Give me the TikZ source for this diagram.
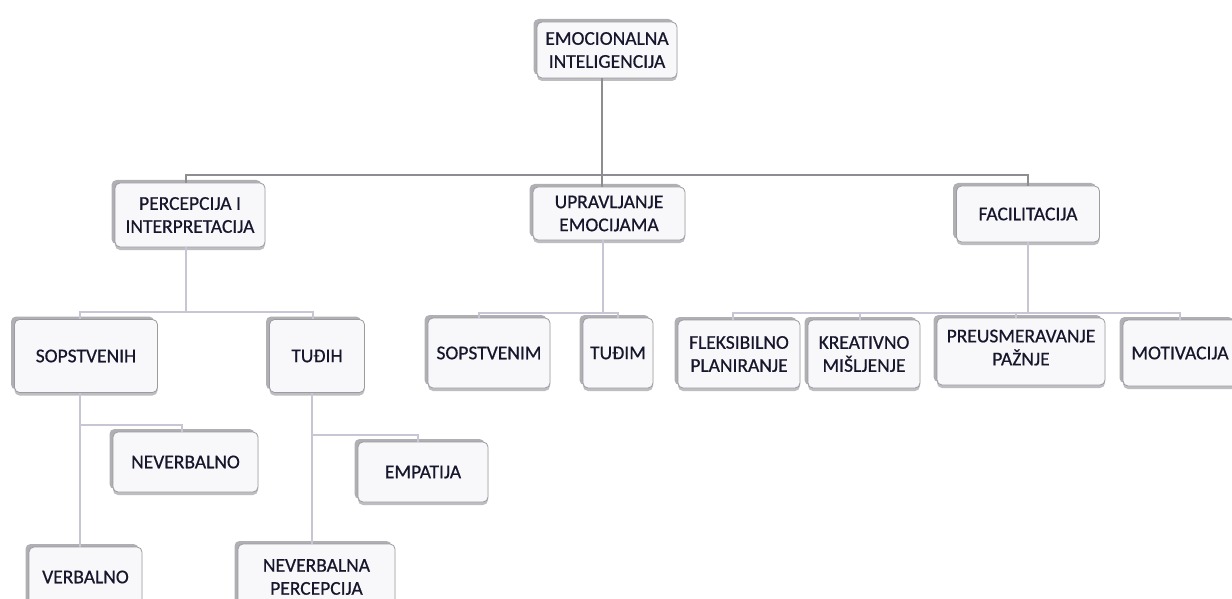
\documentclass[tikz,border=0pt]{standalone}
\usepackage{fontspec}
\setmainfont{Carlito}
\newfontfamily\boxfont{Carlito}[FakeBold=0.6]
\usetikzlibrary{shadows}
\definecolor{facefill}{HTML}{F8F8FA}
\definecolor{boxedge}{HTML}{9C9CA0}
\definecolor{shadeA}{HTML}{B0B0B4}
\definecolor{shadeB}{HTML}{BDBDC2}
\definecolor{textcol}{HTML}{16162C}
\definecolor{trunkcol}{HTML}{8E8E92}
\definecolor{branchcol}{HTML}{C6C6D4}
\begin{document}
\begin{tikzpicture}[x=1pt,y=-1pt,
  box/.style={draw=boxedge, line width=0.8pt, fill=facefill, rounded corners=5pt,
    align=center, inner sep=0pt, text=textcol,
    font=\boxfont\fontsize{19.5}{23}\selectfont,
    general shadow={fill=shadeA, rounded corners=5pt, shadow xshift=-3.5pt, shadow yshift=3pt},
    general shadow={fill=shadeB, rounded corners=5pt, shadow yshift=-3pt}},
  trunk/.style={draw=trunkcol, line width=1.2pt},
  branch/.style={draw=branchcol, line width=2pt}]
\useasboundingbox (0,0) rectangle (1232,599);
\fill[white] (0,0) rectangle (1232,599);
\clip (0,0) rectangle (1232,599);

% root and first level
\node[box, minimum width=140pt, minimum height=56pt] (root) at (607,50) {EMOCIONALNA\\INTELIGENCIJA};
\node[box, minimum width=150pt, minimum height=64pt] (perc) at (190,215) {PERCEPCIJA I\\INTERPRETACIJA};
\node[box, minimum width=152pt, minimum height=53pt] (upr) at (609,213.5) {UPRAVLJANJE\\EMOCIJAMA};
\node[box, minimum width=143pt, minimum height=56pt] (fac) at (1028,214) {FACILITACIJA};

% second level
\node[box, minimum width=143pt, minimum height=73pt] (sopih) at (86,356) {SOPSTVENIH};
\node[box, minimum width=95pt, minimum height=73pt] (tudjih) at (317,356) {TUĐIH};
\node[box, minimum width=122pt, minimum height=70pt] (sopim) at (489,353) {SOPSTVENIM};
\node[box, minimum width=70pt, minimum height=70pt] (tudjim) at (618,353) {TUĐIM};
\node[box, minimum width=122pt, minimum height=68pt] (flek) at (739,354) {FLEKSIBILNO\\PLANIRANJE};
\node[box, minimum width=112pt, minimum height=68pt] (kreat) at (864,354) {KREATIVNO\\MIŠLJENJE};
\node[box, minimum width=168pt, minimum height=67pt, text depth=8pt] (preus) at (1021,351.5) {PREUSMERAVANJE\\PAŽNJE};
\node[box, minimum width=114pt, minimum height=66pt] (motiv) at (1180,353) {MOTIVACIJA};

% third level
\node[box, minimum width=145pt, minimum height=60pt] (neverb) at (185.5,462) {NEVERBALNO};
\node[box, minimum width=130pt, minimum height=60pt] (empat) at (423,472) {EMPATIJA};
\node[box, minimum width=113pt, minimum height=60pt] (verb) at (85.5,577) {VERBALNO};
\node[box, minimum width=157pt, minimum height=66pt] (nvperc) at (316.5,577) {NEVERBALNA\\PERCEPCIJA};

% connectors: root to first level
\coordinate (b1) at (186,175);
\coordinate (b2) at (1028,175);
\draw[trunk] ([xshift=-5pt]root.south) -- ([xshift=-5pt]root.south |- upr.north);
\draw[trunk] (b1 |- perc.north) |- (b2) -- (b2 |- fac.north);

% perception branch
\coordinate (c1) at (80,312);
\coordinate (c2) at (313,312);
\draw[branch] ([xshift=-4pt]perc.south) -- ([xshift=-4pt]perc.south |- c1);
\draw[branch] (c1 |- sopih.north) |- (c2) -- (c2 |- tudjih.north);

% management branch
\coordinate (u1) at (479,313);
\coordinate (u2) at (618,313);
\draw[branch] ([xshift=-6pt]upr.south) -- ([xshift=-6pt]upr.south |- u1);
\draw[branch] (u1 |- sopim.north) |- (u2) -- (u2 |- tudjim.north);

% facilitation branch
\coordinate (f1) at (733,313);
\coordinate (f2) at (860,313);
\coordinate (f3) at (1016,313);
\coordinate (f4) at (1180,313);
\draw[branch] (fac.south) -- (fac.south |- f1);
\draw[branch] (f1 |- flek.north) |- (f4) -- (f4 |- motiv.north);
\draw[branch] (f2) -- (f2 |- kreat.north);
\draw[branch] (f3) -- (f3 |- preus.north);

% own emotions
\coordinate (s1) at (80,425);
\coordinate (s2) at (182,425);
\draw[branch] (s1 |- sopih.south) -- (s1 |- verb.north);
\draw[branch] (s1) -- (s2) -- (s2 |- neverb.north);

% others' emotions
\coordinate (t1) at (312,435);
\coordinate (t2) at (418,435);
\draw[branch] (t1 |- tudjih.south) -- (t1 |- nvperc.north);
\draw[branch] (t1) -- (t2) -- (t2 |- empat.north);
\end{tikzpicture}
\end{document}
